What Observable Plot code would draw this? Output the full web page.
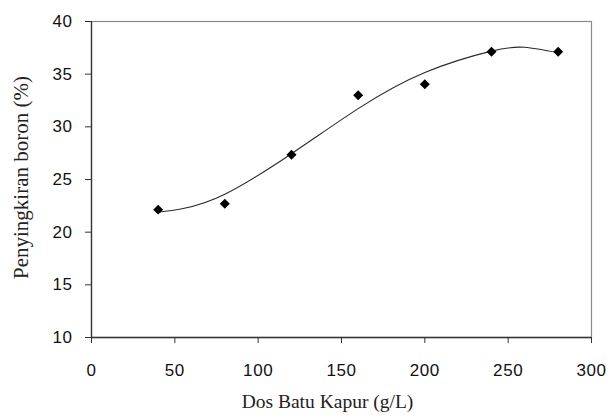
<!DOCTYPE html>
<html>
<head>
<meta charset="utf-8">
<script src="https://cdn.jsdelivr.net/npm/d3@7"></script>
<script src="https://cdn.jsdelivr.net/npm/@observablehq/plot@0.6"></script>
<style>
  html, body { margin: 0; padding: 0; background: #fff; }
  #chart svg { display: block; font-family: "Liberation Sans", Arial, sans-serif; }
  #chart .tick-lbl text { font-family: "Liberation Sans", Arial, sans-serif !important; letter-spacing: 0.6px; }
  #chart .ttl text { font-family: "Liberation Serif", "Times New Roman", serif !important; }
</style>
</head>
<body>
<div id="chart"></div>
<script>
// Measured points
const doses = [40, 80, 120, 160, 200, 240, 280];
const removal = [22.14, 22.69, 27.35, 33.0, 34.05, 37.12, 37.12];

// Trend curve
const trendX = [40, 55, 80, 120, 160, 200, 240, 260, 280];
const trendY = [21.89, 22.25, 23.6, 27.45, 31.73, 35.16, 37.19, 37.55, 37.03];

const xTicks = [0, 50, 100, 150, 200, 250, 300];
const yTicks = [10, 15, 20, 25, 30, 35, 40];

const points = doses.map((d, i) => ({x: d, y: removal[i]}));
const trend = trendX.map((d, i) => ({x: d, y: trendY[i]}));

const chart = Plot.plot({
  width: 611,
  height: 418,
  marginLeft: 91,
  marginRight: 20,
  marginTop: 21,
  marginBottom: 81,
  style: {background: "#fff", overflow: "visible"},
  x: {domain: [0, 300]},
  y: {domain: [10, 40]},
  marks: [
    Plot.frame({stroke: "#8a8a8a", strokeWidth: 1.2}),
    Plot.axisX(xTicks, {tickSize: 6, tickPadding: 20, fontSize: 17, fill: "#111", stroke: "#333", label: null, className: "tick-lbl"}),
    Plot.axisY(yTicks, {tickSize: 6, tickPadding: 13, fontSize: 17, fill: "#111", stroke: "#333", label: null, className: "tick-lbl"}),
    Plot.ruleX([0], {stroke: "#333", strokeWidth: 1.3}),
    Plot.ruleY([10], {stroke: "#333", strokeWidth: 1.3}),
    Plot.line(trend, {x: "x", y: "y", curve: "natural", stroke: "#2a2a2a", strokeWidth: 1.1}),
    Plot.dot(points, {x: "x", y: "y", symbol: "diamond2", r: 4.5, fill: "#000", stroke: "none"}),
    Plot.text(["Dos Batu Kapur (g/L)"], {frameAnchor: "bottom", dy: 70, dx: -14, fontSize: 19.5, fill: "#222", textAnchor: "middle", className: "ttl"}),
    Plot.text(["Penyingkiran boron (%)"], {frameAnchor: "left", dx: -70, rotate: -90, dy: -2, fontSize: 21, fill: "#222", textAnchor: "middle", className: "ttl"})
  ]
});
document.getElementById("chart").appendChild(chart);
</script>
</body>
</html>
